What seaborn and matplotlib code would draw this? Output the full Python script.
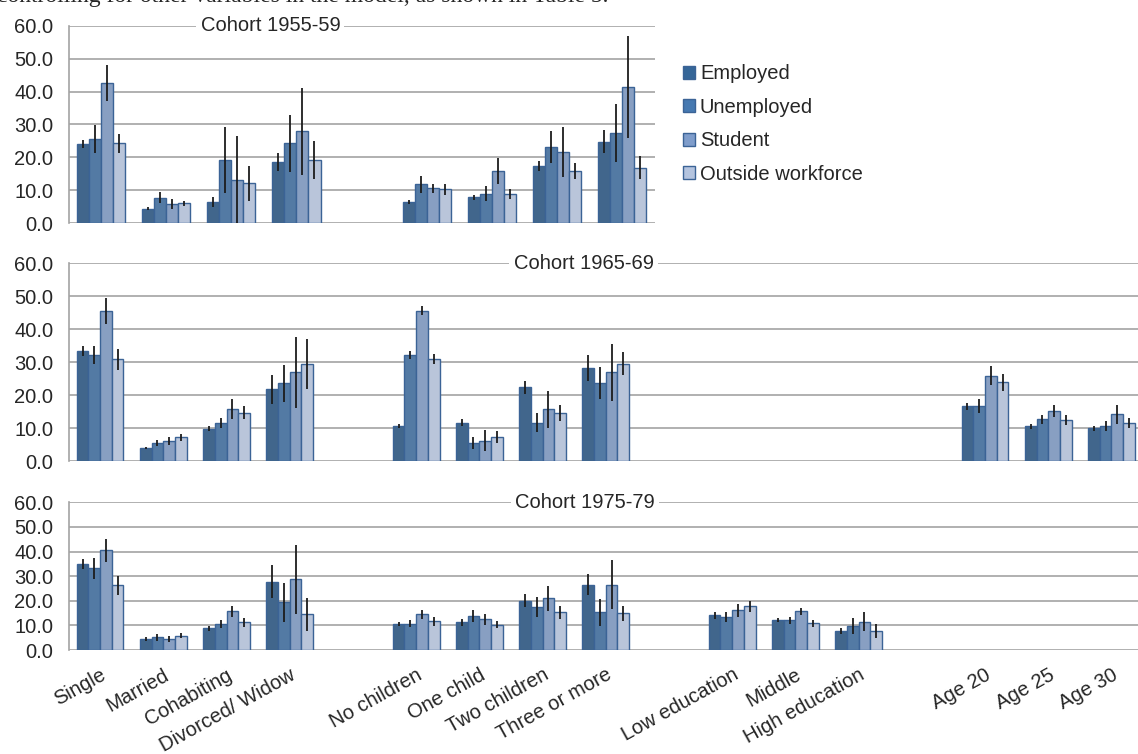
import numpy as np
import pandas as pd
import matplotlib.pyplot as plt
import matplotlib.patches as mpatches
import seaborn as sns

nan = np.nan

# x slots (gaps between blocks of categories)
slots = ["Single", "Married", "Cohabiting", "Divorced/ Widow", "gap1",
         "No children", "One child", "Two children", "Three or more", "gap2",
         "Low education", "Middle", "High education", "gap3",
         "Age 20", "Age 25", "Age 30"]
statuses = ["Employed", "Unemployed", "Student", "Outside workforce"]

# Cohort 1955-59 (first 9 slots only)
emp_55 = [24.0, 4.4, 6.5, 18.7, nan, 6.5, 7.9, 17.4, 24.8]
emp_55_err = [1.3, 0.5, 1.5, 2.7, nan, 0.6, 0.8, 1.5, 3.4]
une_55 = [25.5, 7.8, 19.2, 24.3, nan, 11.9, 9.0, 23.2, 27.5]
une_55_err = [4.3, 1.7, 9.9, 8.6, nan, 2.6, 2.3, 4.8, 8.8]
stu_55 = [42.5, 5.8, 13.1, 28.0, nan, 10.6, 15.8, 21.6, 41.4]
stu_55_err = [5.5, 1.6, 13.4, 13.2, nan, 1.4, 4.0, 7.7, 15.6]
out_55 = [24.3, 6.0, 12.2, 19.2, nan, 10.3, 8.9, 15.8, 16.8]
out_55_err = [2.9, 0.9, 5.3, 5.8, nan, 1.6, 1.4, 2.4, 3.5]

# Cohort 1965-69
emp_65 = [33.4, 4.0, 9.9, 21.8, nan, 10.6, 11.7, 22.4, 28.2, nan, nan, nan, nan, nan, 16.7, 10.6, 10.0]
emp_65_err = [1.6, 0.4, 0.8, 4.4, nan, 0.6, 1.0, 1.9, 4.0, nan, nan, nan, nan, nan, 1.1, 0.8, 0.8]
une_65 = [32.2, 5.5, 11.7, 23.7, nan, 32.2, 5.5, 11.7, 23.7, nan, nan, nan, nan, nan, 16.7, 12.7, 10.6]
une_65_err = [2.8, 0.9, 1.5, 5.6, nan, 1.2, 1.8, 2.9, 4.9, nan, nan, nan, nan, nan, 2.2, 1.4, 1.5]
stu_65 = [45.6, 6.2, 15.8, 27.0, nan, 45.6, 6.3, 15.8, 27.0, nan, nan, nan, nan, nan, 25.9, 15.3, 14.2]
stu_65_err = [3.9, 1.3, 3.0, 10.7, nan, 1.4, 3.1, 5.6, 8.6, nan, nan, nan, nan, nan, 2.9, 1.9, 2.8]
out_65 = [30.9, 7.3, 14.7, 29.4, nan, 30.9, 7.3, 14.6, 29.5, nan, nan, nan, nan, nan, 23.9, 12.4, 11.7]
out_65_err = [3.2, 1.0, 2.0, 7.6, nan, 1.5, 1.8, 2.5, 3.5, nan, nan, nan, nan, nan, 2.5, 1.5, 1.5]

# Cohort 1975-79
emp_75 = [35.1, 4.3, 8.8, 27.8, nan, 10.6, 11.2, 20.1, 26.6, nan, 14.2, 12.1, 7.6, nan, nan, nan, nan]
emp_75_err = [2.0, 0.8, 1.0, 6.7, nan, 0.7, 1.3, 2.5, 4.4, nan, 1.4, 0.9, 1.2, nan, nan, nan, nan]
une_75 = [33.2, 5.1, 10.6, 19.4, nan, 10.6, 13.8, 17.6, 15.3, nan, 13.4, 12.1, 9.9, nan, nan, nan, nan]
une_75_err = [4.3, 1.3, 1.7, 7.9, nan, 1.4, 2.4, 4.1, 5.5, nan, 2.0, 1.4, 3.3, nan, nan, nan, nan]
stu_75 = [40.5, 4.3, 15.7, 28.7, nan, 14.5, 12.5, 21.1, 26.6, nan, 16.1, 15.7, 11.5, nan, nan, nan, nan]
stu_75_err = [4.6, 1.2, 2.3, 14.1, nan, 1.7, 2.2, 5.1, 10.0, nan, 2.5, 1.5, 3.9, nan, nan, nan, nan]
out_75 = [26.3, 5.8, 11.2, 14.5, nan, 11.7, 10.2, 15.3, 14.9, nan, 17.8, 10.8, 7.6, nan, nan, nan, nan]
out_75_err = [3.9, 1.0, 1.8, 6.8, nan, 1.8, 1.4, 2.7, 3.1, nan, 2.2, 1.5, 2.8, nan, nan, nan, nan]

colors = ["#356698", "#4679B1", "#7F9DCB", "#B4C4DF"]
edge = "#3B6396"
FS = 14.5

sns.set_style("white")
plt.rcParams["font.family"] = ["Liberation Sans", "DejaVu Sans"]


def draw_panel(ax, series, errors, n, title, title_x):
    order = slots[:n]
    rows = []
    for status, vals, errs in zip(statuses, series, errors):
        for i, (v, e) in enumerate(zip(vals, errs)):
            if not np.isnan(v):
                rows.append({"slot": order[i], "status": status, "value": v, "err": e})
    df = pd.DataFrame(rows)
    sns.barplot(data=df, x="slot", y="value", hue="status", order=order,
                hue_order=statuses, palette=colors, width=0.74, errorbar=None,
                edgecolor=edge, linewidth=1.0, legend=False, ax=ax)
    # error bars placed on the drawn bars
    for cont, errs in zip(ax.containers, errors):
        for bar in cont:
            h = bar.get_height()
            if np.isnan(h) or h == 0:
                continue
            xc = bar.get_x() + bar.get_width() / 2
            e = errs[int(round(xc))]
            ax.errorbar(xc, h, yerr=e, fmt="none", ecolor="#1c1c1c",
                        elinewidth=1.3, capsize=0, zorder=5)
    ax.set_xlim(-0.5, n - 0.5)
    ax.set_ylim(0, 60)
    ax.set_yticks(range(0, 61, 10))
    ax.set_yticklabels([f"{v:.1f}" for v in range(0, 61, 10)], fontsize=FS)
    ax.set_xlabel("")
    ax.set_ylabel("")
    ax.set_axisbelow(True)
    ax.yaxis.grid(True, color="#a3a3a3", linewidth=1.2)
    ax.tick_params(axis="both", length=0, pad=11)
    for s in ["top", "right", "bottom"]:
        ax.spines[s].set_visible(False)
    ax.spines["left"].set_color("#a3a3a3")
    ax.spines["left"].set_linewidth(1.2)
    # panel title sitting on the top gridline
    ax.text(title_x, 60, title, ha="center", va="center", fontsize=FS,
            zorder=10, clip_on=False,
            bbox=dict(facecolor="white", edgecolor="none", pad=3))


fig = plt.figure(figsize=(11.38, 7.54), dpi=100)
ax1 = fig.add_axes([0.0602, 0.7039, 0.515, 0.2621])
ax2 = fig.add_axes([0.0602, 0.3882, 0.9442, 0.2626])
ax3 = fig.add_axes([0.0602, 0.1379, 0.9442, 0.1959])

draw_panel(ax1, [emp_55, une_55, stu_55, out_55],
           [emp_55_err, une_55_err, stu_55_err, out_55_err], 9, "Cohort 1955-59", 2.6)
draw_panel(ax2, [emp_65, une_65, stu_65, out_65],
           [emp_65_err, une_65_err, stu_65_err, out_65_err], 17, "Cohort 1965-69", 7.65)
draw_panel(ax3, [emp_75, une_75, stu_75, out_75],
           [emp_75_err, une_75_err, stu_75_err, out_75_err], 17, "Cohort 1975-79", 7.67)

for ax in (ax1, ax2):
    ax.set_xticklabels([])
tick_labels = ["" if s.startswith("gap") else s for s in slots]
ax3.set_xticks(range(len(slots)))
ax3.set_xticklabels(tick_labels, rotation=29, ha="right", va="top",
                    rotation_mode="anchor", fontsize=FS)
ax3.tick_params(axis="x", pad=11)

handles = [mpatches.Patch(facecolor=c, edgecolor=edge, label=s)
           for c, s in zip(colors, statuses)]
fig.legend(handles=handles, loc="center left", bbox_to_anchor=(0.600, 0.8355),
           frameon=False, fontsize=FS, handlelength=0.6, handleheight=0.6,
           handletextpad=0.25, labelspacing=0.72, borderpad=0, borderaxespad=0)

fig.text(-0.003, 1 - 2 / 754, "controlling for other variables in the model, as shown in Table 5.",
         family=["Liberation Serif", "DejaVu Serif"], fontsize=17, va="baseline")

fig.savefig("out.png", dpi=100)
